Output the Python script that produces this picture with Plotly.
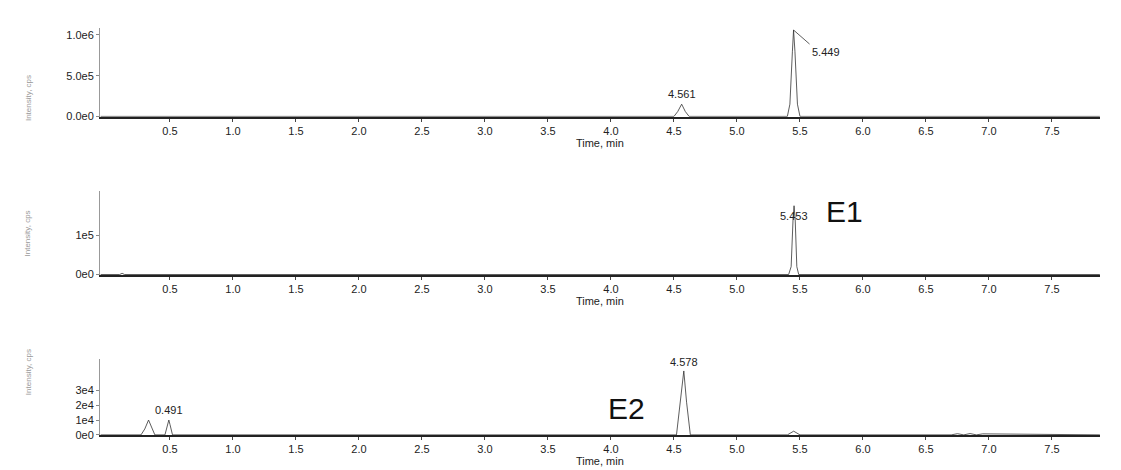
import plotly.graph_objects as go

# Panel 1 chromatogram (time min, intensity cps)
t1 = [-0.05, 0.25, 0.3, 0.35, 3.75, 3.8, 3.85, 3.9, 3.93, 3.97, 4.50, 4.53, 4.561, 4.59, 4.62, 5.40, 5.42, 5.44, 5.449, 5.46, 5.48, 5.50, 7.9]
i1 = [0, 0, 4000, 0, 0, 5000, 0, 0, 6000, 0, 0, 60000, 150000, 60000, 0, 0, 150000, 800000, 1060000, 800000, 150000, 0, 0]
# Panel 2
t2 = [-0.05, 0.1, 0.12, 0.14, 5.41, 5.43, 5.445, 5.453, 5.462, 5.475, 5.49, 7.9]
i2 = [0, 0, 3000, 0, 0, 20000, 140000, 175000, 140000, 20000, 0, 0]
# Panel 3
t3 = [-0.05, 0.27, 0.30, 0.33, 0.36, 0.38, 0.46, 0.48, 0.491, 0.50, 0.52, 4.52, 4.55, 4.578, 4.60, 4.63, 5.40, 5.45, 5.50, 6.70, 6.75, 6.80, 6.85, 6.90, 6.95, 7.9]
i3 = [0, 0, 4000, 10000, 4000, 0, 0, 7000, 10000, 7000, 0, 0, 22000, 43000, 22000, 0, 0, 2500, 0, 0, 800, 0, 900, 0, 700, 0]

xt = [0.5, 1.0, 1.5, 2.0, 2.5, 3.0, 3.5, 4.0, 4.5, 5.0, 5.5, 6.0, 6.5, 7.0, 7.5]
xt_lbl = ["%.1f" % v for v in xt]
y1_vals, y1_lbl = [0, 500000, 1000000], ["0.0e0", "5.0e5", "1.0e6"]
y2_vals, y2_lbl = [0, 100000], ["0e0", "1e5"]
y3_vals, y3_lbl = [0, 10000, 20000, 30000], ["0e0", "1e4", "2e4", "3e4"]

font = dict(family="Liberation Sans, Arial", size=11, color="#222")
fig = go.Figure()
series = [(t1, i1, "x", "y"), (t2, i2, "x2", "y2"), (t3, i3, "x3", "y3")]
for t, v, xa, ya in series:
    fig.add_trace(go.Scatter(x=t, y=v, xaxis=xa, yaxis=ya, mode="lines",
                             line=dict(color="#333", width=0.8), showlegend=False))

doms = [[0.766, 0.957], [0.426, 0.606], [0.081, 0.245]]
yr = [[-5000, 1.085e6], [-1000, 2.12e5], [-300, 5.1e4]]
yt = [(y1_vals, y1_lbl), (y2_vals, y2_lbl), (y3_vals, y3_lbl)]
lay = dict(width=1121, height=470, margin=dict(l=0, r=0, t=0, b=0),
           plot_bgcolor="white", paper_bgcolor="white", font=font)
for k in range(3):
    s = "" if k == 0 else str(k + 1)
    lay["xaxis" + s] = dict(domain=[0.082, 0.974], range=[-0.056, 7.88], anchor="y" + s,
                            tickvals=xt, ticktext=xt_lbl, ticks="outside", ticklen=3,
                            showline=True, linecolor="#222", linewidth=1.5, showgrid=False,
                            zeroline=False, title=dict(text="Time, min", standoff=2, font=font))
    lay["yaxis" + s] = dict(domain=doms[k], range=yr[k], anchor="x" + s,
                            tickvals=yt[k][0], ticktext=yt[k][1], ticks="outside", ticklen=3,
                            tickcolor="#888", showline=True, linecolor="#999", linewidth=0.8,
                            showgrid=False, zeroline=False, tickfont=font)
fig.update_layout(**lay)

ann = [
    dict(x=4.561, y=150000, xref="x", yref="y", text="4.561", showarrow=False, yshift=10),
    dict(x=5.449, y=1060000, xref="x", yref="y", text="5.449", showarrow=True, arrowhead=0,
         arrowwidth=0.8, arrowcolor="#333", ax=16, ay=14, xanchor="left", yanchor="top"),
    dict(x=5.453, y=175000, xref="x2", yref="y2", text="5.453", showarrow=False, yshift=-10),
    dict(x=5.85, y=160000, xref="x2", yref="y2", text="E1", showarrow=False,
         font=dict(family="Liberation Sans, Arial", size=30, color="#111")),
    dict(x=0.491, y=10000, xref="x3", yref="y3", text="0.491", showarrow=False, yshift=10),
    dict(x=4.578, y=43000, xref="x3", yref="y3", text="4.578", showarrow=False, yshift=9),
    dict(x=4.12, y=18000, xref="x3", yref="y3", text="E2", showarrow=False,
         font=dict(family="Liberation Sans, Arial", size=30, color="#111")),
]
for c in [0.86, 0.515, 0.163]:
    ann.append(dict(x=0.012, y=c, xref="paper", yref="paper", text="Intensity, cps", textangle=-90,
                    showarrow=False, font=dict(family="Liberation Sans, Arial", size=8, color="#999")))
fig.update_layout(annotations=ann)
fig.write_html("out.html")
